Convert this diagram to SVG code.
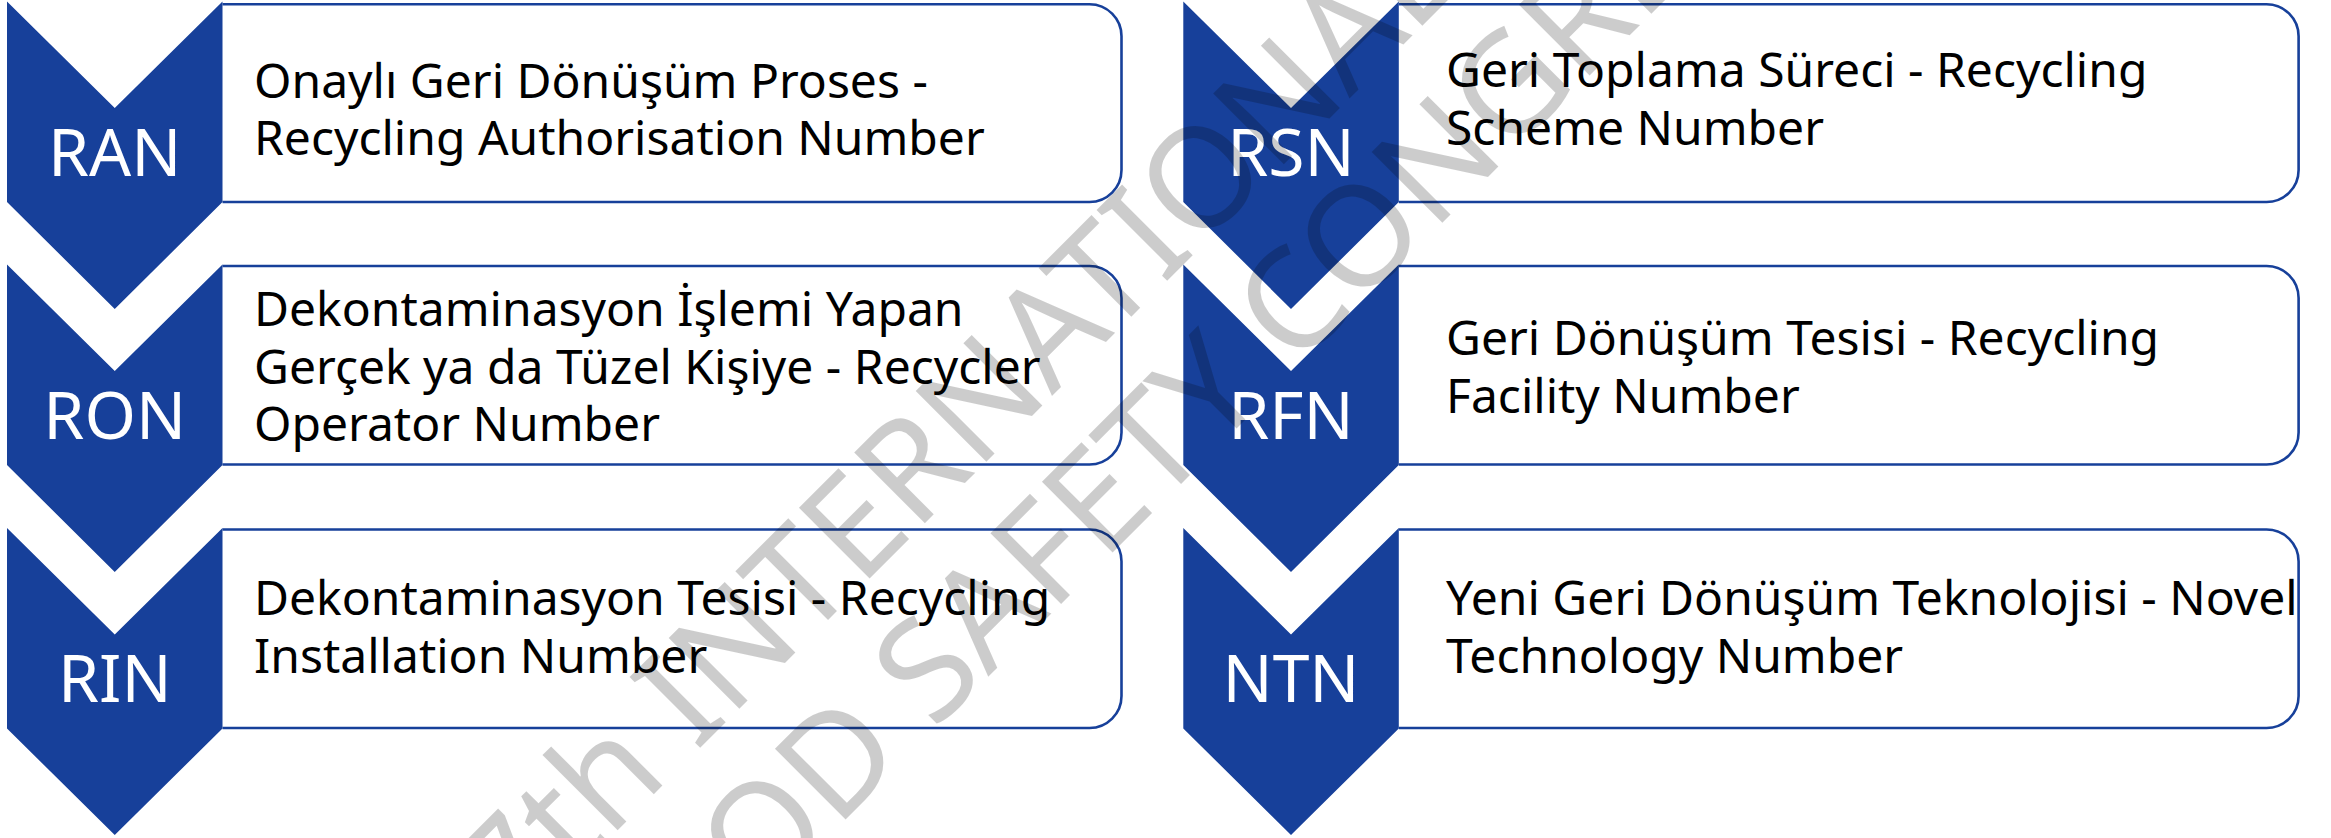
<svg xmlns="http://www.w3.org/2000/svg" width="2331" height="838" viewBox="0 0 2331 838">
<style>
.bg{fill:#ffffff}
.chev{fill:#17409a}
.box{fill:#ffffff;stroke:#17409a;stroke-width:2.6}
.lbl{font-family:"Noto Sans","Open Sans","DejaVu Sans",sans-serif;font-size:66px;fill:#ffffff;text-anchor:middle}
.txt{font-family:"Noto Sans","Open Sans","DejaVu Sans",sans-serif;font-size:48px;fill:#000000}
.wm{font-family:"Noto Sans","Open Sans","DejaVu Sans",sans-serif;font-size:140px;fill:#000000;fill-opacity:0.2}
</style>
<rect class="bg" x="0" y="0" width="2331" height="838"/>
<g id="connectors"></g>

<g id="node-RAN">
<path class="box" d="M222.5,202 H1089.5 A32,32 0 0 0 1121.5,170 V36.3 A32,32 0 0 0 1089.5,4.3 H222.5"/>
<path class="chev" d="M7,1.5 L114.75,108 L222.5,1.5 V202 L114.75,309 L7,202 Z"/>
<text class="lbl" x="114.75" y="176">RAN</text>
<text class="txt" x="254" y="97.5">Onaylı Geri Dönüşüm Proses -</text>
<text class="txt" x="254" y="155">Recycling Authorisation Number</text>
</g>

<g id="node-RON">
<path class="box" d="M222.5,464.5 H1089.5 A32,32 0 0 0 1121.5,432.5 V298 A32,32 0 0 0 1089.5,266 H222.5"/>
<path class="chev" d="M7,264.5 L114.75,371 L222.5,264.5 V465 L114.75,572 L7,465 Z"/>
<text class="lbl" x="114.75" y="439">RON</text>
<text class="txt" x="254" y="326">Dekontaminasyon İşlemi Yapan</text>
<text class="txt" x="254" y="383.5">Gerçek ya da Tüzel Kişiye - Recycler</text>
<text class="txt" x="254" y="441">Operator Number</text>
</g>

<g id="node-RIN">
<path class="box" d="M222.5,728 H1089.5 A32,32 0 0 0 1121.5,696 V561.5 A32,32 0 0 0 1089.5,529.5 H222.5"/>
<path class="chev" d="M7,528 L114.75,634.5 L222.5,528 V728.5 L114.75,835 L7,728.5 Z"/>
<text class="lbl" x="114.75" y="702">RIN</text>
<text class="txt" x="254" y="614.5">Dekontaminasyon Tesisi - Recycling</text>
<text class="txt" x="254" y="672.5">Installation Number</text>
</g>

<g id="node-RSN">
<path class="box" d="M1398.8,202 H2266.6 A32,32 0 0 0 2298.6,170 V36.3 A32,32 0 0 0 2266.6,4.3 H1398.8"/>
<path class="chev" d="M1183.3,1.5 L1291,108 L1398.8,1.5 V202 L1291,309 L1183.3,202 Z"/>
<text class="lbl" x="1291" y="176">RSN</text>
<text class="txt" x="1446" y="87">Geri Toplama Süreci - Recycling</text>
<text class="txt" x="1446" y="145">Scheme Number</text>
</g>

<g id="node-RFN">
<path class="box" d="M1398.8,464.5 H2266.6 A32,32 0 0 0 2298.6,432.5 V298 A32,32 0 0 0 2266.6,266 H1398.8"/>
<path class="chev" d="M1183.3,264.5 L1291,371 L1398.8,264.5 V465 L1291,572 L1183.3,465 Z"/>
<text class="lbl" x="1291" y="439">RFN</text>
<text class="txt" x="1446" y="355">Geri Dönüşüm Tesisi - Recycling</text>
<text class="txt" x="1446" y="413">Facility Number</text>
</g>

<g id="node-NTN">
<path class="box" d="M1398.8,728 H2266.6 A32,32 0 0 0 2298.6,696 V561.5 A32,32 0 0 0 2266.6,529.5 H1398.8"/>
<path class="chev" d="M1183.3,528 L1291,634.5 L1398.8,528 V728.5 L1291,835 L1183.3,728.5 Z"/>
<text class="lbl" x="1291" y="702">NTN</text>
<text class="txt" x="1446" y="614.5">Yeni Geri Dönüşüm Teknolojisi - Novel</text>
<text class="txt" x="1446" y="672.5">Technology Number</text>
</g>

<g id="watermark">
<text class="wm" transform="translate(517,931) rotate(-45)">7th INTERNATIONAL</text>
<text class="wm" transform="translate(630,1035) rotate(-45)">FOOD SAFETY CONGRESS</text>
</g>
</svg>
